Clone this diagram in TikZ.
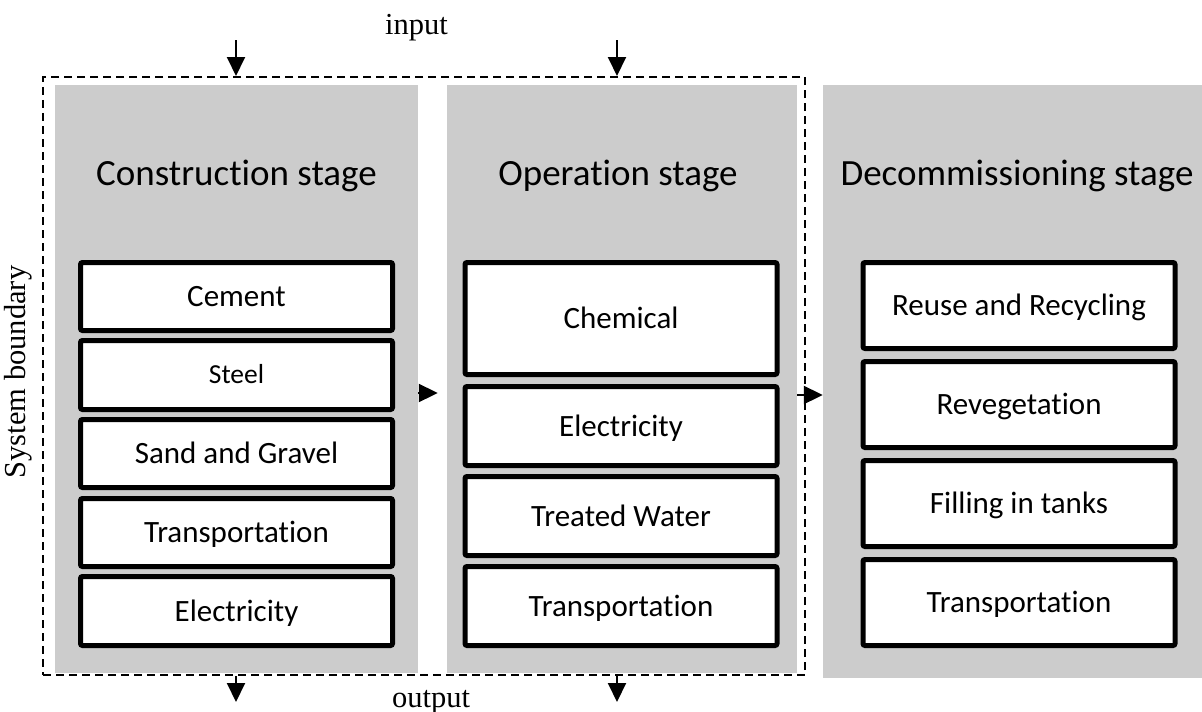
\documentclass[tikz,border=0pt]{standalone}
\usepackage{fontspec}
\setmainfont{Carlito}[Ligatures=NoCommon]
\newfontfamily\timesfont{Liberation Serif}
\usetikzlibrary{arrows.meta}

\begin{document}
\begin{tikzpicture}[x=1pt,y=-1pt,
  panel/.style={fill=gray!40, inner sep=0pt},
  item/.style={draw, line width=5pt, fill=white, rounded corners=2pt, inner sep=0pt,
    minimum width=312pt, text height=20pt, text depth=0pt,
    font=\fontsize{31}{36}\selectfont},
  title/.style={anchor=base, font=\fontsize{37}{44}\selectfont},
  serif/.style={font=\timesfont\fontsize{30.5}{36}\selectfont},
  flow/.style={line width=2pt, -{Triangle[width=18pt,length=19pt]}}]
\useasboundingbox (0,0) rectangle (1202,712);

% the three stages
\node [panel, minimum width=363pt, minimum height=588pt, at={(236.5,379)}] (cons) {};
\node [panel, minimum width=350pt, minimum height=588pt, at={(622,379)}] (oper) {};
\node [panel, minimum width=379pt, minimum height=593pt, at={(1012.5,381.5)}] (deco) {};
\node [title, at={(236.5,185)}] (consT) {Construction stage};
\node [title, at={(618,185)}] (operT) {Operation stage};
\node [title, at={(1017,185)}] (decoT) {Decommissioning stage};

% construction
\node [item, minimum height=68pt, at={(236.5,296.5)}] (cement) {Cement};
\node [item, minimum height=69pt, at={(236.5,375)}, font=\fontsize{27.5}{32}\selectfont,
  text height=17.5pt] (steel) {Steel};
\node [item, minimum height=68pt, at={(236.5,453.5)}] (sand) {Sand and Gravel};
\node [item, minimum height=68pt, at={(236.5,532.5)}] (transA) {Transportation};
\node [item, minimum height=69pt, at={(236.5,611)}] (elecA) {Electricity};

% operation
\node [item, minimum height=112pt, at={(621,318.5)}] (chem) {Chemical};
\node [item, minimum height=79pt, at={(621,426)}] (elecB) {Electricity};
\node [item, minimum height=79pt, at={(621,516)}] (water) {Treated Water};
\node [item, minimum height=79pt, at={(621,606)}] (transB) {Transportation};

% decommissioning
\node [item, minimum height=86pt, at={(1019,305.5)}] (reuse) {Reuse and Recycling};
\node [item, minimum height=86pt, at={(1019,404.5)}] (reveg) {Revegetation};
\node [item, minimum height=86pt, at={(1019,503.5)}] (filling) {Filling in tanks};
\node [item, minimum height=86pt, at={(1019,602.5)}] (transC) {Transportation};

% system boundary
\node [draw, line width=2pt, dash pattern=on 8pt off 5pt, inner sep=0pt,
  minimum width=762pt, minimum height=598pt, at={(424,376)}] (bound) {};
\node [serif, rotate=90, anchor=base, at={(25,372)}] (sysb) {System boundary};

% inputs and outputs
\node [serif, anchor=base, at={(416.5,34)}] (inT) {input};
\node [serif, anchor=base, at={(431,707)}] (outT) {output};
\coordinate (inA) at (236,40);
\coordinate (inB) at (617,40);
\coordinate (outA) at (236,702);
\coordinate (outB) at (617,702);
\draw [flow] (inA) -- (inA |- bound.north);
\draw [flow] (inB) -- (inB |- bound.north);
\draw [flow] (outA |- bound.south) -- (outA);
\draw [flow] (outB |- bound.south) -- (outB);

% between stages
\draw [flow] ([yshift=-14pt]cons.east) -- ([xshift=-9pt,yshift=-14pt]oper.west);
\draw [flow] ([yshift=-16pt]oper.east) -- ([yshift=-13.5pt]deco.west);
\end{tikzpicture}
\end{document}
